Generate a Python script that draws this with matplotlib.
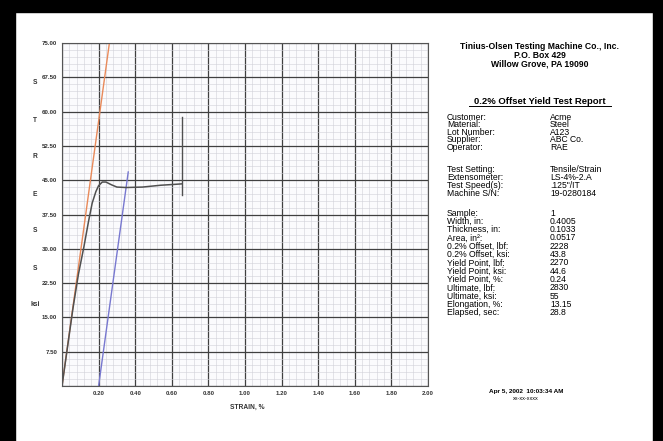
import matplotlib
matplotlib.use("Agg")
import matplotlib.pyplot as plt
from matplotlib.patches import Rectangle
import numpy as np

# --- chart data ---
strain_test = [0.0, 0.03, 0.06, 0.09, 0.12, 0.145, 0.165, 0.185, 0.20, 0.22,
               0.24, 0.27, 0.30, 0.35, 0.44, 0.54, 0.62, 0.655]
stress_test = [0.0, 8.5, 17.0, 24.5, 30.5, 36.0, 40.0, 42.5, 43.8, 44.6,
               44.6, 44.0, 43.5, 43.4, 43.5, 43.9, 44.1, 44.2]
strain_modulus = [0.0, 0.259]
stress_modulus = [0.0, 75.0]
strain_offset = [0.2, 0.362]
stress_offset = [0.0, 46.8]
strain_break = [0.655, 0.655]
stress_break = [41.8, 58.8]

x_ticks = [0.2, 0.4, 0.6, 0.8, 1.0, 1.2, 1.4, 1.6, 1.8, 2.0]
y_ticks = [7.5, 15.0, 22.5, 30.0, 37.5, 45.0, 52.5, 60.0, 67.5, 75.0]
y_letters = ["S", "T", "R", "E", "S", "S", "ksi"]

header = ["Tinius-Olsen Testing Machine Co., Inc.", "P.O. Box 429",
          "Willow Grove, PA 19090"]
report_title = "0.2% Offset Yield Test Report"
info_labels = ["Customer:", "Material:", "Lot Number:", "Supplier:", "Operator:"]
info_values = ["Acme", "Steel", "A123", "ABC Co.", "RAE"]
setup_labels = ["Test Setting:", "Extensometer:", "Test Speed(s):", "Machine S/N:"]
setup_values = ["Tensile/Strain", "LS-4%-2.A", '.125"/IT', "19-0280184"]
result_labels = ["Sample:", "Width, in:", "Thickness, in:", "Area, in\u00b2:",
                 "0.2% Offset, lbf:", "0.2% Offset, ksi:", "Yield Point, lbf:",
                 "Yield Point, ksi:", "Yield Point, %:", "Ultimate, lbf:",
                 "Ultimate, ksi:", "Elongation, %:", "Elapsed, sec:"]
result_values = ["1", "0.4005", "0.1033", "0.0517", "2228", "43.8", "2270",
                 "44.6", "0.24", "2830", "55", "13.15", "28.8"]
stamp = ["Apr 5, 2002  10:03:34 AM", "xx-xx-xxxx"]

plt.rcParams["font.family"] = ["Liberation Sans", "DejaVu Sans"]

W, H = 663, 441
fig = plt.figure(figsize=(W / 100, H / 100), dpi=100)


def fx(px):
    return px / W


def fy(py):
    return 1 - py / H


# black frame round the scan
for (x0, y0, w, h) in [(0, 0, 15, H), (653, 0, 10, H), (0, 0, W, 12)]:
    fig.add_artist(Rectangle((fx(x0), fy(y0 + h)), fx(w), h / H,
                             transform=fig.transFigure, color="black", zorder=0))

ax = fig.add_axes([fx(62), fy(386), fx(428 - 62), (386 - 43) / H])
ax.set_xlim(0, 2.0)
ax.set_ylim(0, 75.0)
ax.set_facecolor("#fbfbfd")

ax.set_xticks(np.arange(0, 2.0001, 0.2))
ax.set_yticks(np.arange(0, 75.0001, 7.5))
ax.set_xticks(np.arange(0, 2.0001, 0.04), minor=True)
ax.set_yticks(np.arange(0, 75.0001, 1.5), minor=True)
ax.grid(which="minor", color="#d0d0d8", linewidth=0.4)
ax.grid(which="major", color="#404040", linewidth=0.9)
ax.set_axisbelow(True)
ax.tick_params(which="both", length=0, labelsize=4.4, colors="#333333")
ax.set_xticklabels([""] + ["%.2f" % v for v in x_ticks], fontweight="bold")
ax.set_yticklabels([""] + ["%.2f" % v for v in y_ticks], fontweight="bold")
for s in ax.spines.values():
    s.set_color("#555555")
    s.set_linewidth(0.8)

ax.plot(strain_modulus, stress_modulus, color="#e98a5a", linewidth=1.0)
ax.plot(strain_offset, stress_offset, color="#7878d0", linewidth=1.0)
ax.plot(strain_test, stress_test, color="#505050", linewidth=1.1)
ax.plot(strain_break, stress_break, color="#505050", linewidth=1.0)

fig.text(fx(247), fy(407), "STRAIN, %", fontsize=4.8, fontweight="bold",
         ha="center", va="center", color="#333333")
for i, ch in enumerate(y_letters):
    fig.text(fx(35), fy(83 + i * 37), ch, fontsize=4.8, fontweight="bold",
             ha="center", va="center", color="#333333")

# report panel
fig.text(fx(540), fy(55), "\n".join(header), fontsize=6.2, fontweight="bold",
         ha="center", va="center", multialignment="center", linespacing=0.95)
fig.text(fx(540), fy(102), report_title, fontsize=6.8, fontweight="bold",
         ha="center", va="center")
fig.add_artist(plt.Line2D([fx(469), fx(611)], [fy(106.5), fy(106.5)],
                          transform=fig.transFigure, color="black", linewidth=0.7))


def rows(labels, values, y0, step):
    for i, (lab, val) in enumerate(zip(labels, values)):
        fig.text(fx(447), fy(y0 + i * step), lab, fontsize=6.2, va="center")
        fig.text(fx(550), fy(y0 + i * step), val, fontsize=6.2, va="center")


rows(info_labels, info_values, 117, 7.6)
rows(setup_labels, setup_values, 170, 7.8)
rows(result_labels, result_values, 213, 8.33)

fig.text(fx(526), fy(391), stamp[0], fontsize=4.6, fontweight="bold",
         ha="center", va="center")
fig.text(fx(526), fy(398.5), stamp[1], fontsize=4.0, ha="center", va="center")

fig.savefig("out.png", dpi=100)
